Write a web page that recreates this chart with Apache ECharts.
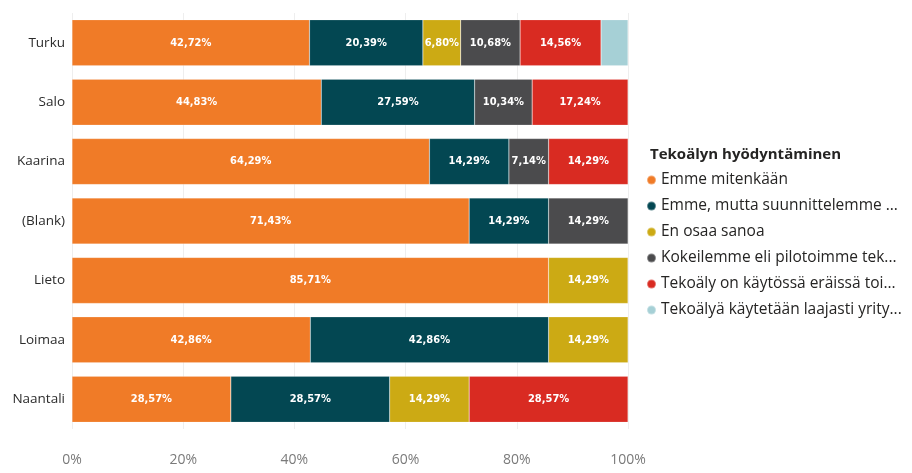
<!DOCTYPE html>
<html>
<head>
<meta charset="utf-8">
<script src="https://cdn.jsdelivr.net/npm/echarts@6/dist/echarts.min.js"></script>
<style>
  html, body { margin: 0; padding: 0; background: #fff; }
  #chart { width: 912px; height: 473px; }
</style>
</head>
<body>
<div id="chart"></div>
<script>
// kunnat, ylhäältä alas
const cities = ["Turku", "Salo", "Kaarina", "(Blank)", "Lieto", "Loimaa", "Naantali"];

const seriesNames = [
  "Emme mitenkään",
  "Emme, mutta suunnittelemme tekoälyn käyttöönottoa",
  "En osaa sanoa",
  "Kokeilemme eli pilotoimme tekoälyä",
  "Tekoäly on käytössä eräissä toiminnoissa",
  "Tekoälyä käytetään laajasti yrityksessä"
];

// legendassa näkyvät (katkaistut) tekstit
const legendLabels = [
  "Emme mitenkään",
  "Emme, mutta suunnittelemme ...",
  "En osaa sanoa",
  "Kokeilemme eli pilotoimme tek...",
  "Tekoäly on käytössä eräissä toi...",
  "Tekoälyä käytetään laajasti yrity..."
];

// osuudet prosentteina, null = ei arvoa
const emmeMitenkaan = [42.72, 44.83, 64.29, 71.43, 85.71, 42.86, 28.57];
const suunnittelemme = [20.39, 27.59, 14.29, 14.29, null, 42.86, 28.57];
const enOsaa = [6.80, null, null, null, 14.29, 14.29, 14.29];
const kokeilemme = [10.68, 10.34, 7.14, 14.29, null, null, null];
const kaytossa = [14.56, 17.24, 14.29, null, null, null, 28.57];
const laajasti = [4.85, null, null, null, null, null, null];

const xTicks = [0, 20, 40, 60, 80, 100];

const colors = ["#F07B27", "#034752", "#CCAA14", "#4B4B4D", "#D92B22", "#A6D0D6"];
const allData = [emmeMitenkaan, suunnittelemme, enOsaa, kokeilemme, kaytossa, laajasti];

const fmt = (v) => v.toFixed(2).replace(".", ",") + "%";

const chart = echarts.init(document.getElementById("chart"));

chart.setOption({
  animation: false,
  title: {
    text: "Tekoälyn hyödyntäminen",
    left: 645,
    top: 142,
    textStyle: { fontFamily: "Open Sans", fontSize: 15, fontWeight: "bold", color: "#252423" }
  },
  legend: {
    orient: "vertical",
    left: 641,
    top: 167,
    itemGap: 10,
    icon: "circle",
    itemWidth: 9,
    itemHeight: 9,
    formatter: (name) => legendLabels[seriesNames.indexOf(name)],
    textStyle: {
      fontFamily: "Open Sans",
      fontSize: 15.5,
      color: "#252423"
    },
    data: seriesNames
  },
  grid: { left: 72, right: 284, top: 13, bottom: 44, containLabel: false },
  xAxis: {
    type: "value",
    min: 0,
    max: 100,
    interval: 20,
    axisLine: { show: false },
    axisTick: { show: false },
    splitLine: { lineStyle: { color: "#EEEEEE", width: 1 } },
    axisLabel: {
      margin: 24,
      fontFamily: "Open Sans",
      fontSize: 14,
      color: "#7A7A7A",
      formatter: (v) => (xTicks.includes(v) ? v + "%" : "")
    }
  },
  yAxis: {
    type: "category",
    inverse: true,
    data: cities,
    axisLine: { show: false },
    axisTick: { show: false },
    axisLabel: { margin: 7, fontFamily: "Open Sans", fontSize: 13.5, color: "#2B2B2B" }
  },
  series: seriesNames.map((name, i) => ({
    name: name,
    type: "bar",
    stack: "total",
    barWidth: 46,
    itemStyle: { color: colors[i], borderColor: "rgba(255,255,255,0.35)", borderWidth: 0.5 },
    label: {
      show: true,
      position: "inside",
      fontFamily: "DejaVu Sans Condensed",
      fontWeight: "bold",
      fontSize: 11,
      color: "#ffffff",
      formatter: (p) => (p.value == null || p.value < 5 ? "" : fmt(p.value))
    },
    data: allData[i]
  }))
});
</script>
</body>
</html>
